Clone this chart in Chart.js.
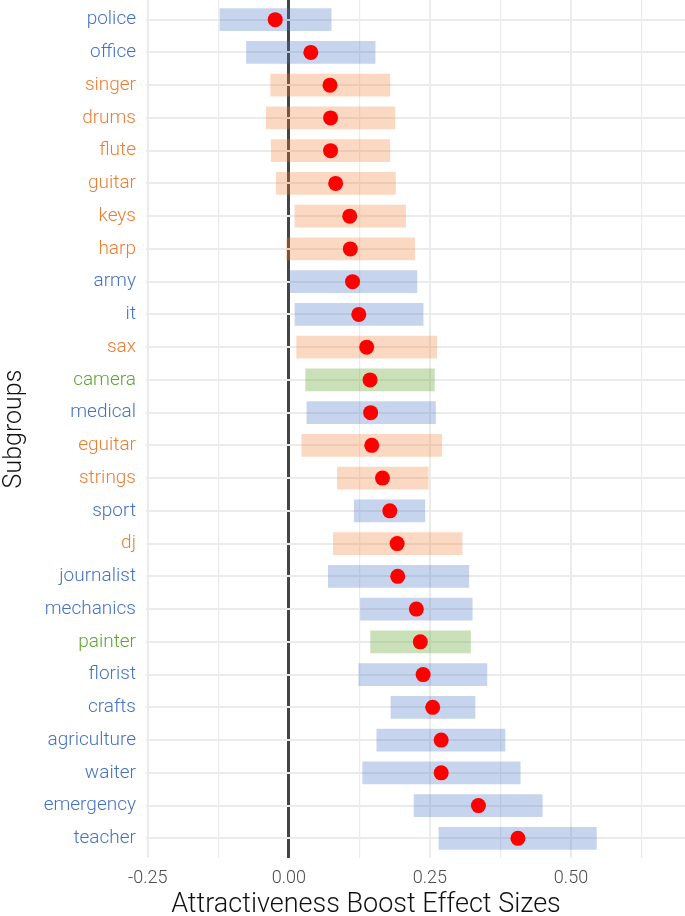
<!DOCTYPE html>
<html>
<head>
<meta charset="utf-8">
<script src="https://cdn.jsdelivr.net/npm/chart.js@4"></script>
<style>
	body { margin: 0; background: #fff; }
	#wrap { width: 685px; height: 916px; }
</style>
</head>
<body>
<div id="wrap"><canvas id="effectChart" width="685" height="916"></canvas></div>
<script>
const subgroups = [
	"police", "office", "singer", "drums", "flute", "guitar", "keys", "harp",
	"army", "it", "sax", "camera", "medical", "eguitar", "strings", "sport",
	"dj", "journalist", "mechanics", "painter", "florist", "crafts",
	"agriculture", "waiter", "emergency", "teacher",
];
// o = occupation, m = music, a = art
const groups = [
	"o", "o", "m", "m", "m", "m", "m", "m",
	"o", "o", "m", "a", "o", "m", "m", "o",
	"m", "o", "o", "a", "o", "o",
	"o", "o", "o", "o",
];
const lower = [
	-0.122, -0.075, -0.032, -0.040, -0.031, -0.022, 0.011, -0.004,
	0.002, 0.011, 0.014, 0.030, 0.032, 0.023, 0.086, 0.116,
	0.079, 0.070, 0.127, 0.145, 0.124, 0.181,
	0.156, 0.131, 0.222, 0.266,
];
const upper = [
	0.075, 0.153, 0.179, 0.188, 0.179, 0.189, 0.207, 0.223,
	0.227, 0.238, 0.262, 0.258, 0.260, 0.271, 0.247, 0.241,
	0.307, 0.319, 0.325, 0.322, 0.351, 0.330,
	0.383, 0.410, 0.449, 0.545,
];
const estimate = [
	-0.024, 0.039, 0.073, 0.074, 0.074, 0.083, 0.108, 0.109,
	0.113, 0.124, 0.138, 0.144, 0.145, 0.147, 0.166, 0.179,
	0.192, 0.193, 0.226, 0.233, 0.238, 0.255,
	0.270, 0.270, 0.336, 0.406,
];
const xMajorTicks = [-0.25, 0, 0.25, 0.5];
const xMinorTicks = [-0.125, 0.125, 0.375, 0.625];
const xTitle = "Attractiveness Boost Effect Sizes";

const textColors = { o: "#4472C4", m: "#ED7D31", a: "#5EA631" };
const barColors = {
	o: "rgba(68, 114, 196, 0.3)",
	m: "rgba(237, 125, 49, 0.3)",
	a: "rgba(112, 173, 71, 0.38)",
};

Chart.defaults.font.family = "Roboto";
Chart.defaults.font.weight = 300;

// the x title sits centred on the whole figure, not on the panel
const xTitlePlugin = {
	id: "xTitle",
	afterDraw(chart) {
		const ctx = chart.ctx;
		ctx.save();
		ctx.font = "300 27px Roboto";
		ctx.fillStyle = "#111111";
		ctx.textAlign = "center";
		ctx.textBaseline = "alphabetic";
		ctx.fillText(xTitle, 366, 912);
		ctx.restore();
	},
};

new Chart(document.getElementById("effectChart"), {
	type: "bar",
	data: {
		datasets: [
			{
				data: subgroups.map((s, i) => ({ x: [lower[i], upper[i]], y: i })),
				backgroundColor: groups.map((g) => barColors[g]),
				borderWidth: 0,
				barThickness: 22,
				order: 2,
			},
			{
				type: "scatter",
				data: subgroups.map((s, i) => ({ x: estimate[i], y: i })),
				backgroundColor: "#FF0000",
				borderWidth: 0,
				pointRadius: 7.5,
				order: 1,
			},
		],
	},
	plugins: [xTitlePlugin],
	options: {
		indexAxis: "y",
		responsive: false,
		devicePixelRatio: 1,
		animation: false,
		layout: { padding: 0, autoPadding: false },
		plugins: {
			legend: { display: false },
			tooltip: { enabled: false },
		},
		scales: {
			x: {
				type: "linear",
				min: -0.253,
				max: 0.702,
				offset: false,
				border: { display: false },
				afterBuildTicks: (scale) => {
					scale.ticks = xMajorTicks.concat(xMinorTicks)
						.sort((a, b) => a - b)
						.map((v) => ({ value: v }));
				},
				afterFit: (scale) => {
					scale.height = 58;
					scale.paddingLeft = 0;
					scale.paddingRight = 0;
				},
				grid: {
					offset: false,
					drawTicks: false,
					color: (ctx) => (ctx.tick.value === 0 ? "#444444" : "#EBEBEB"),
					lineWidth: (ctx) => {
						if (ctx.tick.value === 0) return 3;
						return xMajorTicks.includes(ctx.tick.value) ? 2 : 1.2;
					},
				},
				ticks: {
					padding: 10,
					color: "#4D4D4D",
					font: { size: 18 },
					maxRotation: 0,
					autoSkip: false,
					callback: (v) => (xMajorTicks.includes(v) ? v.toFixed(2) : ""),
				},
				title: { display: false },
			},
			y: {
				type: "linear",
				reverse: true,
				min: -0.6,
				max: 25.6,
				offset: false,
				z: -1,
				border: { display: false },
				afterBuildTicks: (scale) => {
					scale.ticks = subgroups.map((s, i) => ({ value: i }));
				},
				afterFit: (scale) => {
					scale.width = 146;
					scale.paddingTop = 0;
					scale.paddingBottom = 0;
				},
				grid: {
					offset: false,
					drawTicks: false,
					color: "#EBEBEB",
					lineWidth: 2,
				},
				ticks: {
					padding: 10,
					autoSkip: false,
					font: { size: 19 },
					color: (ctx) => textColors[groups[ctx.tick.value]],
					callback: (v) => subgroups[v],
				},
				title: {
					display: true,
					text: "Subgroups",
					color: "#111111",
					font: { size: 25 },
					padding: 0,
				},
			},
		},
	},
});
</script>
</body>
</html>
